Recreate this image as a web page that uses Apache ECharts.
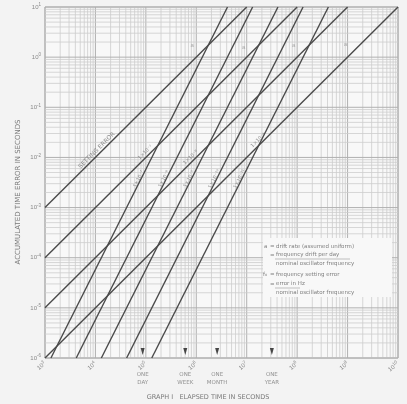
<!DOCTYPE html>
<html><head><meta charset="utf-8">
<script src="https://cdn.jsdelivr.net/npm/echarts@6/dist/echarts.min.js"></script>
<style>html,body{margin:0;padding:0;background:#f3f3f3}#c{width:407px;height:404px}</style>
</head><body><div id="c"></div>
<script>
// ---- data ----
const xTicks = [1e3, 1e4, 1e5, 1e6, 1e7, 1e8, 1e9, 1e10];
const yTicks = [1e-6, 1e-5, 1e-4, 1e-3, 1e-2, 1e-1, 1e0, 1e1];
const settingErrorNames = ['1×10⁻⁹', '1×10⁻⁸', '1×10⁻⁷', 'SETTING ERROR'];
const settingErrorLines = [
  [[1e3, 1e-6], [1e10, 10]],
  [[1e3, 1e-5], [1e9, 10]],
  [[1e3, 1e-4], [1e8, 10]],
  [[1e3, 1e-3], [1e7, 10]]
];
const settingLabelFrac = [0.62, 0.5, 0.42, 0.285];
const driftNames = ['1×10⁻⁷', '1×10⁻⁸', '1×10⁻⁹', '1×10⁻¹⁰', '1×10⁻¹¹'];
const driftLines = [
  [[1.31e3, 1e-6], [4.16e6, 10]],
  [[4.16e3, 1e-6], [1.31e7, 10]],
  [[1.31e4, 1e-6], [4.16e7, 10]],
  [[4.16e4, 1e-6], [1.31e8, 10]],
  [[1.31e5, 1e-6], [4.16e8, 10]]
];
const driftLabelFrac = [0.52, 0.52, 0.52, 0.52, 0.52];
const timeMarkNames = ['ONE\nDAY', 'ONE\nWEEK', 'ONE\nMONTH', 'ONE\nYEAR'];
const timeMarkSeconds = [86400, 604800, 2592000, 31536000];
const smallLetterPts = [[8.3e5, 1.7], [8.7e6, 1.6], [8.5e7, 1.7], [9.1e8, 1.8]];
const minorMult = [1, 2, 3, 4, 5, 6, 7, 8, 9];

// ---- build ----
const XMIN = 1e3, XMAX = 1e10, YMIN = 1e-6, YMAX = 10;
function expOf(v){ return Math.round(Math.log10(v)); }
function pow10Label(v){ return '{b|10}{s|' + expOf(v) + '}'; }
function onLine(line, f){
  const lx = Math.log10(line[0][0]) + f * (Math.log10(line[1][0]) - Math.log10(line[0][0]));
  const ly = Math.log10(line[0][1]) + f * (Math.log10(line[1][1]) - Math.log10(line[0][1]));
  return [Math.pow(10, lx), Math.pow(10, ly)];
}
const gridItems = [];
for (let d = 3; d < 10; d++) minorMult.forEach(m => gridItems.push({dir:'x', v:m*Math.pow(10,d), major:m===1}));
gridItems.push({dir:'x', v:XMAX, major:true});
for (let d = -6; d < 1; d++) minorMult.forEach(m => gridItems.push({dir:'y', v:m*Math.pow(10,d), major:m===1}));
gridItems.push({dir:'y', v:YMAX, major:true});

const lineStyle = {color:'#4a4a4a', width:1.4};
const labelStyle = {fontSize:5, color:'#8a8a8a', fontFamily:'DejaVu Sans'};
const series = [];
series.push({
  type:'custom', silent:true, z:1,
  data: gridItems.map(g => [g.dir==='x'?g.v:1e4, g.dir==='y'?g.v:1e-3]),
  renderItem: function(params, api){
    const g = gridItems[params.dataIndex];
    let p1, p2;
    if (g.dir === 'x'){ p1 = api.coord([g.v, YMIN]); p2 = api.coord([g.v, YMAX]); }
    else { p1 = api.coord([XMIN, g.v]); p2 = api.coord([XMAX, g.v]); }
    return {type:'line', shape:{x1:p1[0], y1:p1[1], x2:p2[0], y2:p2[1]},
      style:{stroke: g.major ? '#b0b0b0' : '#cdcdcd', lineWidth: g.major ? 1 : 0.8}};
  }
});
settingErrorLines.forEach((ln, i) => {
  series.push({type:'line', data:ln, symbol:'none', lineStyle:lineStyle, z:3, silent:true,
    markPoint:{symbol:'circle', symbolSize:0, silent:true,
      data:[{coord:onLine(ln, settingLabelFrac[i]), label:{show:true, formatter:settingErrorNames[i], rotate:45, offset:[-4,-4], ...labelStyle, fontSize:i===3?6:5}}]}});
});
driftLines.forEach((ln, i) => {
  series.push({type:'line', data:ln, symbol:'none', lineStyle:lineStyle, z:3, silent:true,
    markPoint:{symbol:'circle', symbolSize:0, silent:true,
      data:[{coord:onLine(ln, driftLabelFrac[i]), label:{show:true, formatter:driftNames[i], rotate:63, offset:[-5,-2], ...labelStyle}}]}});
});
series.push({type:'scatter', z:4, silent:true,
  data: timeMarkSeconds.map((s, i) => ({value:[s, 1.35e-6], name:timeMarkNames[i]})),
  symbol:'triangle', symbolRotate:180, symbolSize:[4,7], itemStyle:{color:'#1a1a1a'},
  label:{show:true, position:'bottom', distance:16, formatter:p=>p.name, fontSize:5.5, lineHeight:8, color:'#777', fontFamily:'DejaVu Sans'}
});
series.push({type:'scatter', z:4, silent:true, data:smallLetterPts, symbolSize:0,
  label:{show:true, position:'inside', formatter:'a', fontSize:6, color:'#999'}});

function t(x, y, text, extra){
  return Object.assign({type:'text', x:x, y:y, z:10,
    style:{text:text, fontSize:5.5, fill:'#808080', verticalAlign:'middle', fontFamily:'DejaVu Sans'}}, extra || {});
}
const legendEls = [
  {type:'rect', shape:{x:263, y:238, width:129, height:59}, style:{fill:'#f8f8f8'}, z:9},
  t(264, 247, 'a'), t(270, 247, '='), t(276, 247, 'drift rate (assumed uniform)'),
  t(270, 256, '='), t(276, 255, 'frequency drift per day'),
  {type:'line', shape:{x1:275, y1:259, x2:350, y2:259}, style:{stroke:'#999', lineWidth:0.6}, z:10},
  t(276, 264, 'nominal oscillator frequency'),
  t(263, 275, 'f₀'), t(270, 275, '='), t(276, 275, 'frequency setting error'),
  t(270, 285, '='), t(276, 284, 'error in Hz'),
  {type:'line', shape:{x1:275, y1:288, x2:300, y2:288}, style:{stroke:'#999', lineWidth:0.6}, z:10},
  t(276, 293, 'nominal oscillator frequency')
];

const chart = echarts.init(document.getElementById('c'), null, {renderer:'canvas'});
chart.setOption({
  backgroundColor:'#f3f3f3',
  animation:false,
  grid:{left:45, right:9, top:7, bottom:46, show:true, backgroundColor:'#f8f8f8', borderColor:'#aaa', borderWidth:1},
  xAxis:{type:'log', logBase:10, min:XMIN, max:XMAX, splitNumber:7,
    axisLine:{show:false}, axisTick:{show:false}, splitLine:{show:false}, minorTick:{show:false},
    axisLabel:{formatter:pow10Label, rotate:40, margin:5, color:'#888',
      rich:{b:{fontSize:6, color:'#888'}, s:{fontSize:4.5, color:'#888', padding:[0,0,4,0]}}}},
  yAxis:{type:'log', logBase:10, min:YMIN, max:YMAX, splitNumber:7,
    axisLine:{show:false}, axisTick:{show:false}, splitLine:{show:false},
    axisLabel:{formatter:pow10Label, margin:4, color:'#888',
      rich:{b:{fontSize:6, color:'#888'}, s:{fontSize:4.5, color:'#888', padding:[0,0,4,0]}}}},
  graphic:[
    ...legendEls,
    {type:'text', x:18, y:192, rotation:Math.PI/2, z:5,
      style:{text:'ACCUMULATED TIME ERROR IN SECONDS', fontSize:7, fill:'#7a7a7a', align:'center', verticalAlign:'middle', fontFamily:'DejaVu Sans'}},
    {type:'text', x:208, y:397, z:5,
      style:{text:'GRAPH I   ELAPSED TIME IN SECONDS', fontSize:6.5, fill:'#7a7a7a', align:'center', verticalAlign:'middle', fontFamily:'DejaVu Sans'}}
  ],
  series: series
});
</script></body></html>
